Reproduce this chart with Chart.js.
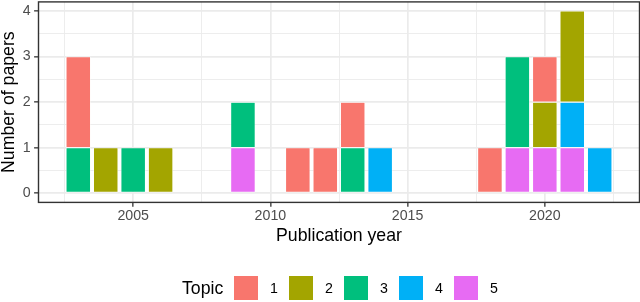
<!DOCTYPE html>
<html>
<head>
<meta charset="utf-8">
<script src="https://cdn.jsdelivr.net/npm/chart.js@4/dist/chart.umd.min.js"></script>
<style>
  html, body { margin: 0; padding: 0; background: #fff; }
  #wrap { position: relative; width: 640px; height: 302px; font-family: "Liberation Sans", Arial, sans-serif; }
  #c { position: absolute; left: 0; top: 0; }
  .lg-title { position: absolute; font-size: 17.7px; color: #000; line-height: 1; }
  .lg-key { position: absolute; width: 26px; height: 26px; box-sizing: border-box; }
  .lg-lab { position: absolute; font-size: 14.2px; color: #000; line-height: 1; }
</style>
</head>
<body>
<div id="wrap">
  <canvas id="c" width="640" height="302"></canvas>
</div>
<script>
// ---- data ----
const years  = [2003, 2004, 2005, 2006, 2009, 2011, 2012, 2013, 2014, 2018, 2019, 2020, 2021, 2022];
const topic1 = [2, 0, 0, 0, 0, 1, 1, 1, 0, 1, 0, 1, 0, 0];
const topic2 = [0, 1, 0, 1, 0, 0, 0, 0, 0, 0, 0, 1, 2, 0];
const topic3 = [1, 0, 1, 0, 1, 0, 0, 1, 0, 0, 2, 0, 0, 0];
const topic4 = [0, 0, 0, 0, 0, 0, 0, 0, 1, 0, 0, 0, 1, 1];
const topic5 = [0, 0, 0, 0, 1, 0, 0, 0, 0, 0, 1, 1, 1, 0];
const topicNames = ['1', '2', '3', '4', '5'];
const topicColors = ['#F8766D', '#A3A500', '#00BF7D', '#00B0F6', '#E76BF3'];
const xTickLabels = ['2005', '2010', '2015', '2020'];
const xMinorTicks = [2002.5, 2007.5, 2012.5, 2017.5, 2022.5];
const yTickLabels = ['0', '1', '2', '3', '4'];
const yMinorTicks = [0.5, 1.5, 2.5, 3.5];

const series = [topic1, topic2, topic3, topic4, topic5];

// ggplot stacks topic 1 on top -> dataset order 5..1 (bottom to top)
const datasets = [];
for (let t = series.length - 1; t >= 0; t--) {
  const pts = [];
  years.forEach((yr, i) => { if (series[t][i] > 0) pts.push({ x: yr, y: series[t][i] }); });
  datasets.push({
    label: topicNames[t],
    data: pts,
    backgroundColor: topicColors[t],
    borderColor: '#FFFFFF',
    borderWidth: 0.6,
    borderSkipped: false,
    categoryPercentage: 1.0,
    barPercentage: 0.9
  });
}

const xMajor = xTickLabels.map(Number);
const yMajor = yTickLabels.map(Number);
const xAll = xMajor.concat(xMinorTicks).sort((a, b) => a - b);
const yAll = yMajor.concat(yMinorTicks).sort((a, b) => a - b);

const FONT = '"Liberation Sans", Arial, sans-serif';
const GRID = '#EBEBEB';
const DARK = '#333333';

const panelBorder = {
  id: 'panelBorder',
  afterDatasetsDraw(chart) {
    const { ctx, chartArea: a } = chart;
    ctx.save();
    ctx.strokeStyle = DARK;
    ctx.lineWidth = 1.4;
    ctx.strokeRect(a.left, a.top, a.right - a.left, a.bottom - a.top);
    ctx.restore();
  }
};

new Chart(document.getElementById('c'), {
  type: 'bar',
  data: { datasets },
  options: {
    responsive: false,
    animation: false,
    devicePixelRatio: 1,
    layout: { padding: { left: 0, right: 0.5, top: 1.9, bottom: 56.8 } },
    plugins: { legend: { display: false }, tooltip: { enabled: false } },
    scales: {
      x: {
        type: 'linear',
        stacked: true,
        offset: false,
        min: 2001.55,
        max: 2023.45,
        afterBuildTicks: (s) => { s.ticks = xAll.map(v => ({ value: v })); },
        afterFit: (s) => { s.height = 42.8; s.paddingLeft = 0; s.paddingRight = 0; },
        ticks: {
          autoSkip: false,
          maxRotation: 0,
          padding: 0.3,
          color: '#4D4D4D',
          font: { family: FONT, size: 14.2 },
          callback: (v) => { const i = xMajor.indexOf(v); return i >= 0 ? xTickLabels[i] : ''; }
        },
        grid: {
          offset: false,
          color: GRID,
          lineWidth: (c) => (xMajor.includes(c.tick && c.tick.value) ? 1.7 : 0.9),
          tickLength: 4.4,
          tickColor: (c) => (xMajor.includes(c.tick && c.tick.value) ? DARK : 'rgba(0,0,0,0)'),
          tickWidth: 1.3
        },
        border: { display: false },
        title: {
          display: true,
          text: 'Publication year',
          color: '#000',
          padding: { top: 0, bottom: 0 },
          font: { family: FONT, size: 17.7, lineHeight: 1 }
        }
      },
      y: {
        type: 'linear',
        stacked: true,
        min: -0.2,
        max: 4.2,
        afterBuildTicks: (s) => { s.ticks = yAll.map(v => ({ value: v })); },
        afterFit: (s) => { s.width = 38.5; s.paddingTop = 0; s.paddingBottom = 0; },
        ticks: {
          padding: 3.5,
          color: '#4D4D4D',
          font: { family: FONT, size: 14.2 },
          callback: (v) => { const i = yMajor.indexOf(v); return i >= 0 ? yTickLabels[i] : ''; }
        },
        grid: {
          color: GRID,
          lineWidth: (c) => (yMajor.includes(c.tick && c.tick.value) ? 1.7 : 0.9),
          tickLength: 4.4,
          tickColor: (c) => (yMajor.includes(c.tick && c.tick.value) ? DARK : 'rgba(0,0,0,0)'),
          tickWidth: 1.3
        },
        border: { display: false },
        title: {
          display: true,
          text: 'Number of papers',
          color: '#000',
          padding: { top: 0.55, bottom: 0 },
          font: { family: FONT, size: 17.7, lineHeight: 1 }
        }
      }
    }
  },
  plugins: [panelBorder]
});

// ---- HTML legend (ggplot style, bottom) ----
const wrap = document.getElementById('wrap');
const title = document.createElement('div');
title.className = 'lg-title';
title.textContent = 'Topic';
title.style.left = '182px';
title.style.top = '279.5px';
wrap.appendChild(title);
topicNames.forEach((name, i) => {
  const key = document.createElement('div');
  key.className = 'lg-key';
  key.style.left = (233 + i * 55) + 'px';
  key.style.top = '275px';
  key.style.background = topicColors[i];
  key.style.border = '0.6px solid #fff';
  wrap.appendChild(key);
  const lab = document.createElement('div');
  lab.className = 'lg-lab';
  lab.textContent = name;
  lab.style.left = (270 + i * 55) + 'px';
  lab.style.top = '281px';
  wrap.appendChild(lab);
});
</script>
</body>
</html>
